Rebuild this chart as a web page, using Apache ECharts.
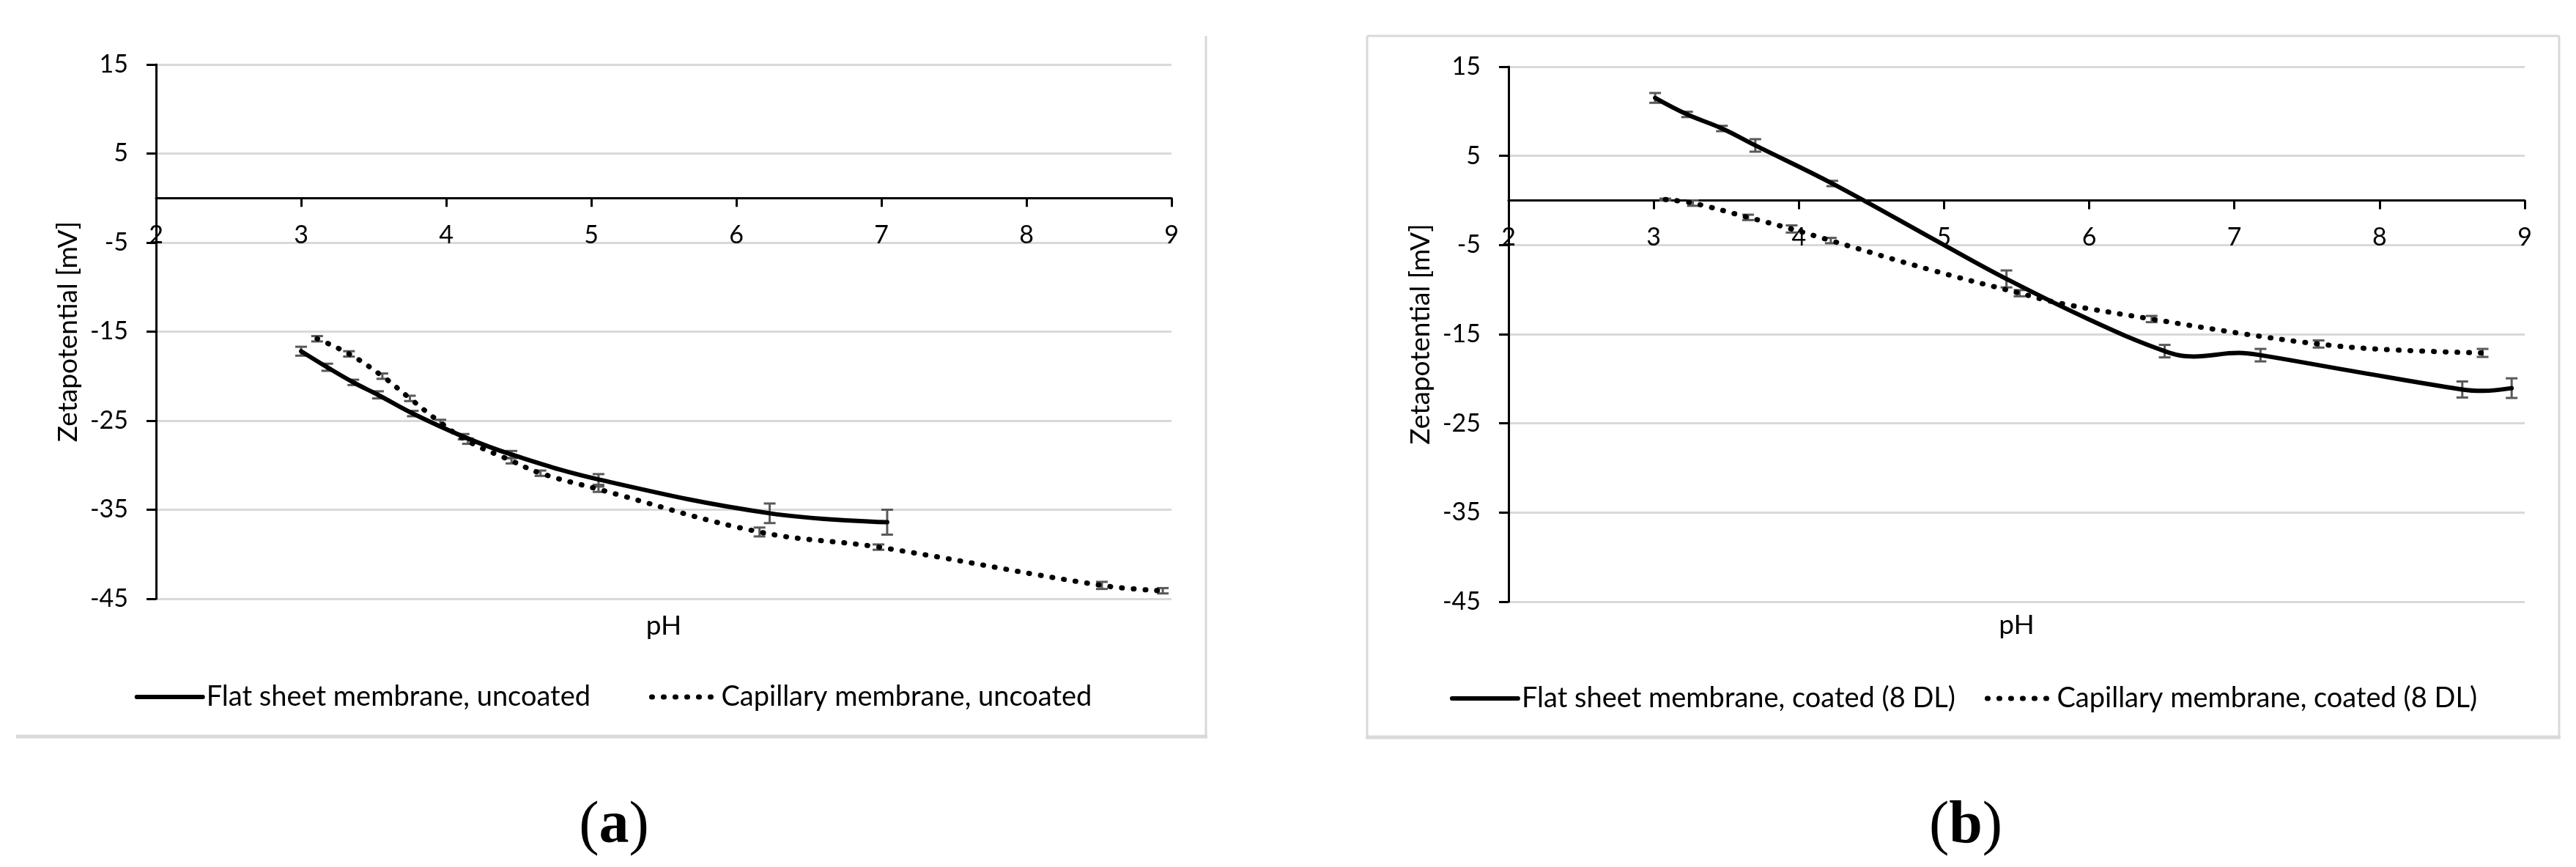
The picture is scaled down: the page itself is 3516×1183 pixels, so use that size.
<!DOCTYPE html>
<html><head><meta charset="utf-8">
<script src="https://cdn.jsdelivr.net/npm/echarts@6/dist/echarts.min.js"></script>
<style>
html,body{margin:0;padding:0;background:#fff;width:3516px;height:1183px;overflow:hidden;position:relative}
#a{position:absolute;left:22px;top:0;width:1630px;height:1183px}
#b{position:absolute;left:1863px;top:0;width:1634px;height:1183px}
</style></head><body><div id="a"></div><div id="b"></div>
<script>
// ---- data ----
const yTicks = [-45, -35, -25, -15, -5, 5, 15];
const xMin = 2, xMax = 9, xStep = 1;
const yAxisTitle = 'Zetapotential [mV]';
const xAxisTitle = 'pH';
const captions = ['a', 'b'];

// (a) uncoated
const namesA = ['Flat sheet membrane, uncoated', 'Capillary membrane, uncoated'];
const flatA_pH   = [3.00, 3.18, 3.36, 3.53, 3.77, 4.12, 4.45, 5.05, 6.23, 7.04];
const flatA_zeta = [-17.2, -19.0, -20.7, -22.1, -24.2, -26.8, -28.8, -31.6, -35.4, -36.4];
const flatA_err  = [0.5, 0.4, 0.3, 0.4, 0.3, 0.3, 0.4, 0.6, 1.1, 1.4];
const capA_pH    = [3.11, 3.33, 3.56, 3.75, 3.96, 4.15, 4.45, 4.65, 5.05, 6.16, 6.98, 8.52, 8.94];
const capA_zeta  = [-15.8, -17.5, -20.0, -22.5, -25.2, -27.3, -29.5, -30.9, -32.7, -37.5, -39.2, -43.5, -44.1];
const capA_err   = [0.3, 0.3, 0.3, 0.3, 0.3, 0.3, 0.3, 0.3, 0.3, 0.5, 0.3, 0.4, 0.3];

// (b) coated (8 DL): curve trace and error-bar points
const namesB = ['Flat sheet membrane, coated (8 DL)', 'Capillary membrane, coated (8 DL)'];
const flatB_curve_pH   = [3.01, 3.23, 3.47, 3.70, 4.23, 5.00, 5.43, 6.00, 6.52, 6.72, 7.03, 7.18, 7.80, 8.57, 8.71, 8.91];
const flatB_curve_zeta = [11.5, 9.65, 8.07, 6.17, 1.9, -5.0, -8.8, -13.35, -16.9, -17.5, -17.1, -17.35, -19.1, -21.2, -21.35, -21.05];
const flatB_pH   = [3.01, 3.23, 3.47, 3.70, 4.23, 5.43, 6.52, 7.18, 8.57, 8.91];
const flatB_zeta = [11.5, 9.65, 8.07, 6.17, 1.9, -8.8, -16.9, -17.35, -21.2, -21.05];
const flatB_err  = [0.55, 0.3, 0.3, 0.7, 0.3, 0.95, 0.7, 0.7, 0.9, 1.1];
const capB_curve_pH   = [3.08, 3.27, 3.65, 3.95, 4.22, 4.90, 5.52, 5.82, 6.43, 7.08, 7.58, 8.02, 8.71];
const capB_curve_zeta = [0.1, -0.3, -1.9, -3.2, -4.5, -7.75, -10.4, -11.6, -13.3, -15.0, -16.1, -16.7, -17.1];
const capB_pH    = [3.08, 3.27, 3.65, 3.95, 4.22, 5.52, 6.43, 7.58, 8.71];
const capB_zeta  = [0.1, -0.3, -1.9, -3.2, -4.5, -10.4, -13.3, -16.1, -17.1];
const capB_err   = [0.1, 0.3, 0.3, 0.4, 0.3, 0.35, 0.35, 0.4, 0.45];

// ---- helpers ----
const FONT = 'Lato';
const SOLID = { color: '#000', width: 6, cap: 'round' };
const DOTS = { color: '#000', width: 7, type: [1, 15], cap: 'round' };
function errSeries(xs, ys, es) {
  return {
    type: 'custom', z: 1, silent: true,
    data: xs.map((x, i) => [x, ys[i] - es[i], ys[i] + es[i]]),
    encode: { x: 0, y: [1, 2] },
    renderItem: function (params, api) {
      const x = api.value(0);
      const top = api.coord([x, api.value(2)]);
      const bot = api.coord([x, api.value(1)]);
      const h = 8;
      const st = { stroke: '#595959', lineWidth: 3 };
      return { type: 'group', children: [
        { type: 'line', shape: { x1: top[0], y1: top[1], x2: bot[0], y2: bot[1] }, style: st },
        { type: 'line', shape: { x1: top[0] - h, y1: top[1], x2: top[0] + h, y2: top[1] }, style: st },
        { type: 'line', shape: { x1: bot[0] - h, y1: bot[1], x2: bot[0] + h, y2: bot[1] }, style: st }
      ]};
    }
  };
}
function pairs(xs, ys) { return xs.map((x, i) => [x, ys[i]]); }

function makeOption(cfg, height) {
  const yMin = yTicks[0], yMax = yTicks[yTicks.length - 1];
  const gh = height - cfg.gt - cfg.gb;
  // x axis drawn where y = 0 (offset up from the bottom edge of the grid)
  const zeroOffset = -gh * (0 - yMin) / (yMax - yMin);
  return {
    animation: false,
    backgroundColor: '#fff',
    textStyle: { fontFamily: FONT },
    grid: { left: cfg.gl, right: cfg.gr, top: cfg.gt, bottom: cfg.gb, outerBoundsMode: 'none', containLabel: false },
    legend: {
      data: [
        { name: cfg.names[0], lineStyle: SOLID, itemStyle: { opacity: 0 } },
        { name: cfg.names[1], lineStyle: DOTS, itemStyle: { opacity: 0 } }
      ],
      left: 'center', top: cfg.legTop,
      itemWidth: 90, itemHeight: 14, itemGap: cfg.legGap,
      textStyle: { fontFamily: FONT, fontSize: 38, color: '#000' }
    },
    xAxis: {
      type: 'value', min: xMin, max: xMax, interval: xStep,
      position: 'bottom', offset: zeroOffset,
      name: xAxisTitle, nameLocation: 'middle', nameGap: cfg.xNameGap,
      nameTextStyle: { fontFamily: FONT, fontSize: 37, color: '#000' },
      axisLine: { onZero: false, lineStyle: { color: '#000', width: 3 } },
      axisTick: { show: true, length: 12, lineStyle: { color: '#000', width: 3 } },
      axisLabel: { fontFamily: FONT, fontSize: 34, color: '#000', margin: 34 },
      splitLine: { show: false }
    },
    yAxis: {
      type: 'value', min: yMin, max: yMax,
      name: yAxisTitle, nameLocation: 'middle', nameGap: 100,
      nameTextStyle: { fontFamily: FONT, fontSize: 37, color: '#000' },
      axisLine: { show: true, onZero: false, lineStyle: { color: '#000', width: 3 } },
      axisTick: { show: true, length: 13, customValues: yTicks, lineStyle: { color: '#000', width: 3 } },
      axisLabel: { fontFamily: FONT, fontSize: 34, color: '#000', margin: 38, customValues: yTicks },
      splitLine: { show: true, lineStyle: { color: '#d9d9d9', width: 3 } }
    },
    series: [
      { name: cfg.names[0], type: 'line', z: 3, data: pairs(cfg.fc[0], cfg.fc[1]), smooth: 0.4,
        symbol: 'none', lineStyle: SOLID, itemStyle: { color: '#000' } },
      { name: cfg.names[1], type: 'line', z: 3, data: pairs(cfg.cc[0], cfg.cc[1]), smooth: 0.4,
        symbol: 'none', lineStyle: DOTS, itemStyle: { color: '#000' } },
      errSeries(cfg.f[0], cfg.f[1], cfg.f[2]),
      errSeries(cfg.c[0], cfg.c[1], cfg.c[2])
    ],
    graphic: cfg.graphic
  };
}

function caption(letter, cx) {
  return {
    type: 'text', x: cx, y: 1128, z: 10,
    style: {
      text: '{p|(}{b|' + letter + '}{p|)}', align: 'center', verticalAlign: 'middle',
      rich: {
        p: { fontFamily: 'Liberation Serif', fontSize: 82, fill: '#000' },
        b: { fontFamily: 'Liberation Serif', fontSize: 82, fontWeight: 'bold', fill: '#000' }
      }
    }
  };
}
const borderColor = '#d9d9d9';
const H = 1183;

const chartA = echarts.init(document.getElementById('a'));
chartA.setOption(makeOption({
  names: namesA, gl: 191, gr: 53, gt: 88, gb: 366, legTop: 927, legGap: 80, xNameGap: 565,
  fc: [flatA_pH, flatA_zeta], cc: [capA_pH, capA_zeta],
  f: [flatA_pH, flatA_zeta, flatA_err], c: [capA_pH, capA_zeta, capA_err],
  graphic: [
    { type: 'line', shape: { x1: 0, y1: 1005, x2: 1626, y2: 1005 }, style: { stroke: borderColor, lineWidth: 5 } },
    { type: 'line', shape: { x1: 1624, y1: 49, x2: 1624, y2: 1005 }, style: { stroke: borderColor, lineWidth: 3 } },
    caption(captions[0], 816)
  ]
}, H));

const chartB = echarts.init(document.getElementById('b'));
chartB.setOption(makeOption({
  names: namesB, gl: 196, gr: 51, gt: 91, gb: 362, legTop: 929, legGap: 40, xNameGap: 561,
  fc: [flatB_curve_pH, flatB_curve_zeta], cc: [capB_curve_pH, capB_curve_zeta],
  f: [flatB_pH, flatB_zeta, flatB_err], c: [capB_pH, capB_zeta, capB_err],
  graphic: [
    { type: 'line', shape: { x1: 3, y1: 49, x2: 1630, y2: 49 }, style: { stroke: borderColor, lineWidth: 3 } },
    { type: 'line', shape: { x1: 3, y1: 49, x2: 3, y2: 1006 }, style: { stroke: borderColor, lineWidth: 3 } },
    { type: 'line', shape: { x1: 1630, y1: 49, x2: 1630, y2: 1006 }, style: { stroke: borderColor, lineWidth: 3 } },
    { type: 'line', shape: { x1: 1, y1: 1006, x2: 1632, y2: 1006 }, style: { stroke: borderColor, lineWidth: 5 } },
    caption(captions[1], 820)
  ]
}, H));
</script>
</body></html>
